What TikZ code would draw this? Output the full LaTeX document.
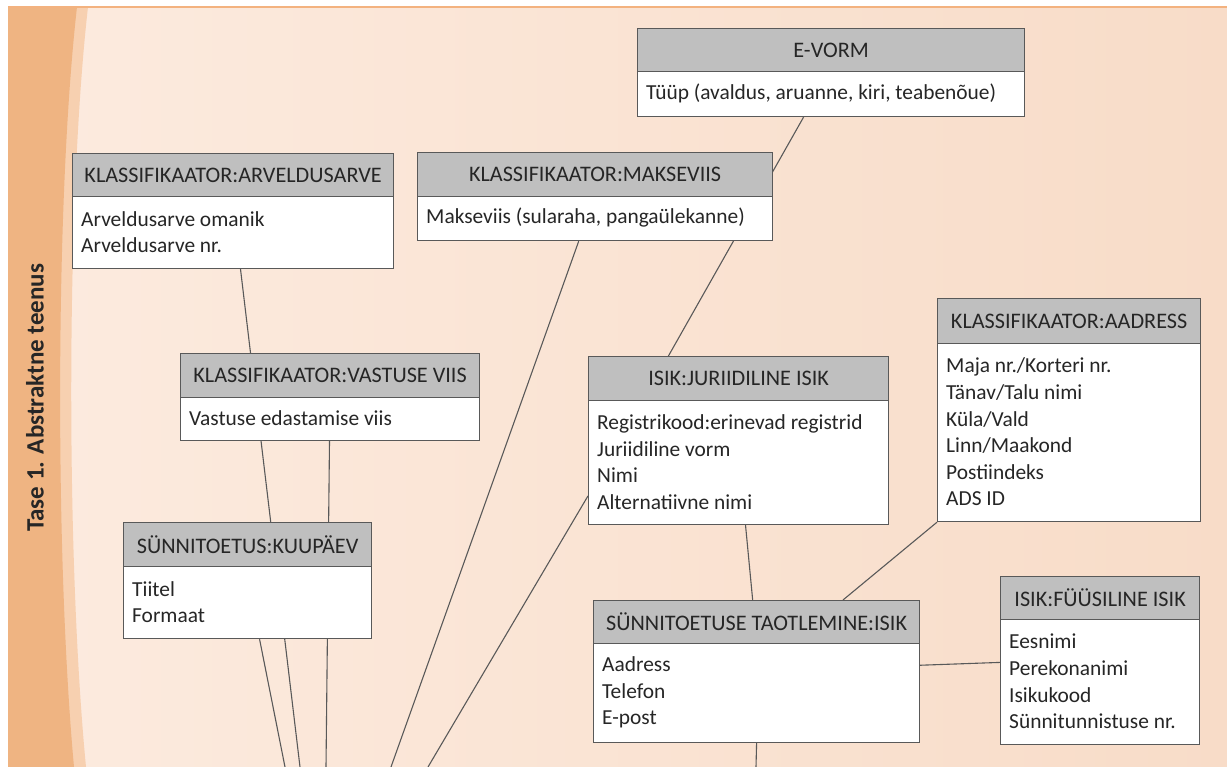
\documentclass[tikz,border=0pt]{standalone}
\usepackage{fontspec}
\setmainfont{Carlito}
\usetikzlibrary{calc}
\pgfdeclarelayer{bg}
\pgfdeclarelayer{lines}
\pgfsetlayers{bg,lines,main}
\definecolor{band}{HTML}{EFB482}
\definecolor{bandlight}{HTML}{F7D0B0}
\definecolor{bgL}{HTML}{FCEBDF}
\definecolor{bgR}{HTML}{F8DCC8}
\definecolor{topline}{HTML}{F3B27F}
\definecolor{hdrgray}{HTML}{BFBFBF}
\definecolor{boxline}{HTML}{595959}
\definecolor{textc}{HTML}{262626}
\newcommand\hfont{\fontsize{22.2}{26}\selectfont}
\newcommand\bfont{\fontsize{21.4}{26.6}\selectfont}
\tikzset{
  hdr/.style={draw=boxline, fill=hdrgray, line width=1.2pt, inner sep=0pt,
    anchor=north west, font=\hfont, text=textc, align=center},
  bodyb/.style={draw=boxline, fill=white, line width=1.2pt, inner sep=0pt,
    anchor=north west},
  btext/.style={anchor=west, inner sep=0pt, font=\bfont, text=textc, align=left},
  conn/.style={draw=boxline, line width=1.1pt},
  label/.style={font=\fontsize{25}{28}\selectfont\bfseries, text=textc, rotate=90}
}
% name, x1, x2, ytop, ymid, ybot, title, body
\newcommand\entity[8]{%
  \pgfmathsetmacro\ew{#3-#2}%
  \pgfmathsetmacro\ehh{#5-#4}%
  \pgfmathsetmacro\ebh{#6-#5}%
  \pgfmathsetmacro\etx{#2+9}%
  \pgfmathsetmacro\ety{(#5+#6)/2}%
  \node[hdr, minimum width=\ew pt, minimum height=\ehh pt] (#1H) at (#2,#4) {#7};
  \node[bodyb, minimum width=\ew pt, minimum height=\ebh pt] (#1B) at (#2,#5) {};
  \node[btext] (#1T) at (\etx,\ety) {#8};
}
\begin{document}
\begin{tikzpicture}[x=1pt,y=-1pt]
\useasboundingbox (0,0) rectangle (1227,767);
\begin{pgfonlayer}{bg}
  \fill[white] (0,0) rectangle (1227,767);
  \shade[left color=bgL, right color=bgR] (8,7) rectangle (1227,767);
  \fill[bandlight] (8,7) -- (88,7) .. controls (66,200) and (66,560) .. (86,767) -- (8,767) -- cycle;
  \fill[band] (8,7) -- (77,7) .. controls (55,200) and (55,560) .. (74,767) -- (8,767) -- cycle;
  \draw[topline, line width=1.5pt] (8,7) -- (1227,7);
\end{pgfonlayer}

\node[label] (tase) at (35,398) {Tase 1. Abstraktne teenus};

\entity{ev}{637}{1024}{28}{71}{116}{E-VORM}{Tüüp (avaldus, aruanne, kiri, teabenõue)}
\entity{ar}{72}{393}{153}{196}{268}{KLASSIFIKAATOR:ARVELDUSARVE}{Arveldusarve omanik\\Arveldusarve nr.}
\entity{mk}{417}{772}{152}{196}{240}{KLASSIFIKAATOR:MAKSEVIIS}{Makseviis (sularaha, pangaülekanne)}
\entity{vv}{180}{479}{353}{397}{440}{KLASSIFIKAATOR:VASTUSE VIIS}{Vastuse edastamise viis}
\entity{kp}{123}{371}{522}{566}{638}{SÜNNITOETUS:KUUPÄEV}{Tiitel\\Formaat}
\entity{ji}{588}{888}{356}{400}{524}{ISIK:JURIIDILINE ISIK}{Registrikood:erinevad registrid\\Juriidiline vorm\\Nimi\\Alternatiivne nimi}
\entity{ad}{937}{1200}{298}{343}{521}{KLASSIFIKAATOR:AADRESS}{Maja nr./Korteri nr.\\Tänav/Talu nimi\\Küla/Vald\\Linn/Maakond\\Postiindeks\\ADS ID}
\entity{ta}{593}{919}{600}{643}{742}{SÜNNITOETUSE TAOTLEMINE:ISIK}{Aadress\\Telefon\\E-post}
\entity{fi}{1000}{1199}{576}{619}{744}{ISIK:FÜÜSILINE ISIK}{Eesnimi\\Perekonanimi\\Isikukood\\Sünnitunnistuse nr.}

\coordinate (e1) at (300,767);
\coordinate (e2) at (326,767);
\coordinate (e3) at (285,767);
\coordinate (e4) at (391,767);
\coordinate (e5) at (428,767);
\coordinate (e6) at (756,767);

\begin{pgfonlayer}{lines}
  \draw[conn] ($(evB.south west)!0.429!(evB.south east)$) -- ($(jiH.north west)!0.267!(jiH.north east)$);
  \draw[conn] ($(arB.south west)!0.523!(arB.south east)$) -- (e1);
  \draw[conn] ($(vvB.south west)!0.498!(vvB.south east)$) -- (e2);
  \draw[conn] ($(kpB.south west)!0.548!(kpB.south east)$) -- (e3);
  \draw[conn] ($(mkB.south west)!0.454!(mkB.south east)$) -- (e4);
  \draw[conn] ($(jiB.north west)!0.766!(jiB.south west)$) -- (e5);
  \draw[conn] ($(jiB.south west)!0.523!(jiB.south east)$) -- ($(taH.north west)!0.488!(taH.north east)$);
  \draw[conn] (adB.south west) -- ($(taH.north west)!0.764!(taH.north east)$);
  \draw[conn] ($(taB.north east)!0.222!(taB.south east)$) -- ($(fiB.north west)!0.344!(fiB.south west)$);
  \draw[conn] ($(taB.south west)!0.5!(taB.south east)$) -- (e6);
\end{pgfonlayer}
\end{tikzpicture}
\end{document}
